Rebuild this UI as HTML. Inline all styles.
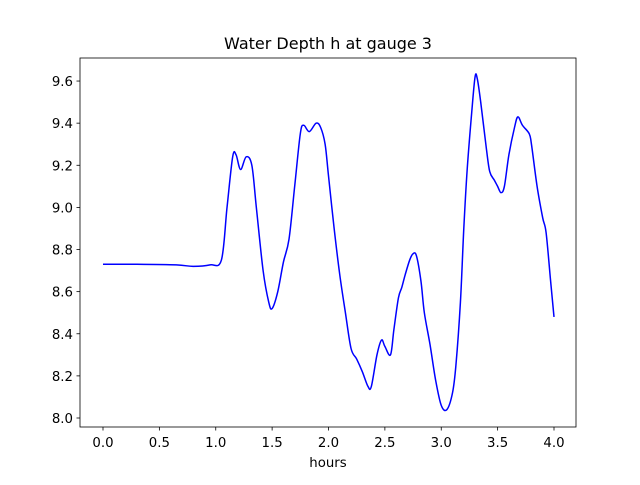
<!DOCTYPE html>
<html><head><meta charset="utf-8"><style>
body{margin:0;background:#fff;font-family:"Liberation Sans","DejaVu Sans",sans-serif}
svg text{font-family:"DejaVu Sans","Liberation Sans",sans-serif;font-size:13.3px;fill:#000}
</style></head><body>
<svg id="chart" width="640" height="480">
<rect x="0" y="0" width="640" height="480" fill="#fff"/>
<text x="328" y="49" text-anchor="middle" style="font-size:16px">Water Depth h at gauge 3</text>
<g id="plot"></g>
<rect x="80" y="58" width="496" height="369" fill="none" stroke="#000" stroke-width="0.8"/>
<text x="328" y="467" text-anchor="middle">hours</text>
</svg>
<script>
const xs=[0,0.3,0.65,0.8,0.95,1.05,1.1,1.15,1.18,1.22,1.27,1.32,1.36,1.42,1.47,1.5,1.55,1.6,1.65,1.7,1.75,1.78,1.83,1.89,1.93,1.97,2.0,2.05,2.1,2.15,2.2,2.25,2.3,2.35,2.38,2.43,2.47,2.5,2.55,2.58,2.62,2.65,2.68,2.72,2.75,2.78,2.82,2.85,2.9,2.95,3.0,3.05,3.1,3.13,3.17,3.2,3.23,3.27,3.3,3.32,3.35,3.4,3.43,3.47,3.5,3.53,3.56,3.6,3.65,3.68,3.72,3.78,3.8,3.85,3.9,3.93,3.97,4.0];
const ys=[8.73,8.73,8.727,8.72,8.727,8.75,9.0,9.24,9.25,9.18,9.24,9.2,9.0,8.7,8.55,8.52,8.6,8.74,8.85,9.1,9.35,9.39,9.36,9.40,9.38,9.3,9.15,8.9,8.68,8.5,8.33,8.28,8.22,8.15,8.15,8.3,8.37,8.34,8.3,8.42,8.57,8.62,8.68,8.75,8.78,8.77,8.65,8.5,8.35,8.18,8.06,8.04,8.12,8.25,8.55,8.9,9.18,9.45,9.62,9.61,9.5,9.28,9.17,9.13,9.1,9.07,9.1,9.25,9.38,9.43,9.39,9.35,9.3,9.1,8.95,8.88,8.65,8.48];
const xTicks=[0,0.5,1,1.5,2,2.5,3,3.5,4];
const xTickLabels=["0.0","0.5","1.0","1.5","2.0","2.5","3.0","3.5","4.0"];
const yTicks=[8.0,8.2,8.4,8.6,8.8,9.0,9.2,9.4,9.6];
const yTickLabels=["8.0","8.2","8.4","8.6","8.8","9.0","9.2","9.4","9.6"];
const X=v=>103+v*112.75, Y=v=>418-(v-8)*210.6;
const g=document.getElementById('plot'),NS='http://www.w3.org/2000/svg';
function mk(t,a){const e=document.createElementNS(NS,t);for(const k in a)e.setAttribute(k,a[k]);g.appendChild(e);return e;}
xTicks.forEach((t,i)=>{
 const l=mk('line',{x1:X(t),x2:X(t),y1:427,y2:430.5,stroke:'#000','stroke-width':0.8});
 
 
 const s=mk('text',{x:X(t),y:447,'text-anchor':'middle'});s.textContent=xTickLabels[i];
 
 
});
yTicks.forEach((t,i)=>{
 const l=mk('line',{x1:76.5,x2:80,y1:Y(t),y2:Y(t),stroke:'#000','stroke-width':0.8});
 
 
 const s=mk('text',{x:73,y:Y(t)+5,'text-anchor':'end'});s.textContent=yTickLabels[i];
 
 
});
const P=xs.map((x,i)=>[X(x),Y(ys[i])]);
let d='M'+P[0][0]+','+P[0][1];
for(let i=0;i<P.length-1;i++){
 const p0=P[Math.max(i-1,0)],p1=P[i],p2=P[i+1],p3=P[Math.min(i+2,P.length-1)];
 const c1=[p1[0]+(p2[0]-p0[0])/6,p1[1]+(p2[1]-p0[1])/6],c2=[p2[0]-(p3[0]-p1[0])/6,p2[1]-(p3[1]-p1[1])/6];
 d+=' C'+c1+' '+c2+' '+p2;
}
const line=mk('path',{d:d,fill:'none',stroke:'#0000ff','stroke-width':1.5});


</script>
</body></html>
